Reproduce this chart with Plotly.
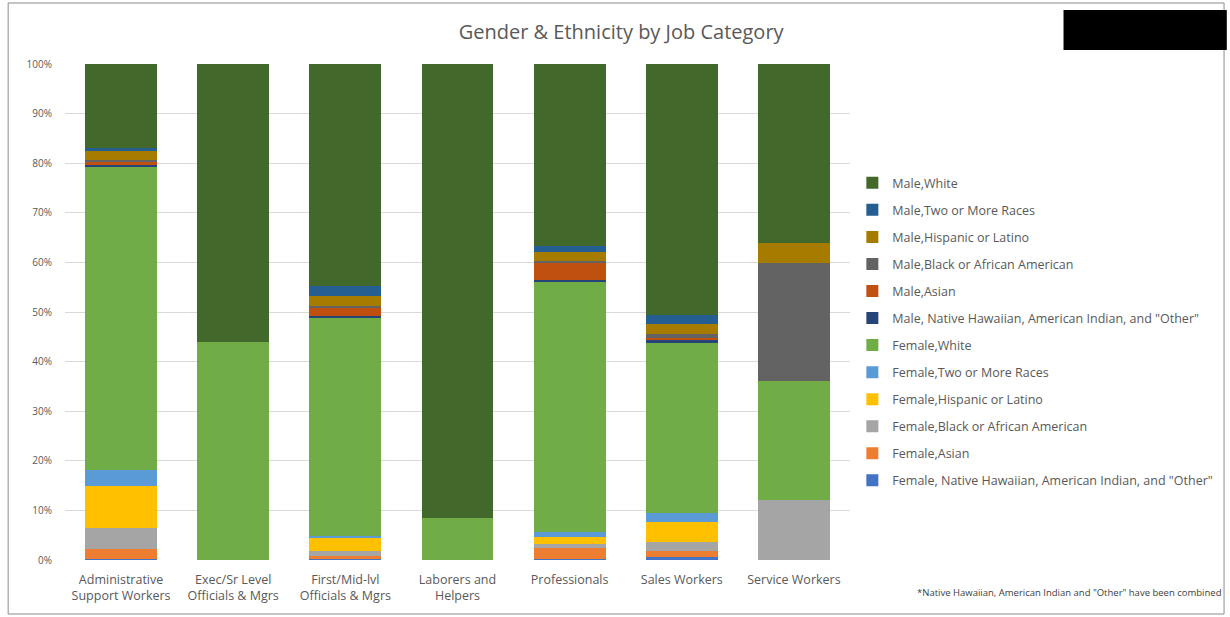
import plotly.graph_objects as go

categories = ["Administrative<br>Support Workers", "Exec/Sr Level<br>Officials & Mgrs",
              "First/Mid-lvl<br>Officials & Mgrs", "Laborers and<br>Helpers",
              "Professionals", "Sales Workers", "Service Workers"]

f_nh = [0.2, 0, 0.2, 0, 0.2, 0.6, 0]
f_asian = [2.0, 0, 0.6, 0, 2.2, 1.3, 0]
f_black = [4.2, 0, 1.0, 0, 0.8, 1.8, 12.1]
f_hisp = [8.6, 0, 2.7, 0, 1.4, 3.9, 0]
f_two = [3.1, 0, 0.3, 0, 1.1, 1.8, 0]
f_white = [61.3, 44.0, 44.0, 8.4, 50.5, 34.3, 24.0]
m_nh = [0.2, 0, 0.3, 0, 0.2, 0.6, 0]
m_asian = [0.8, 0, 1.8, 0, 3.6, 0.5, 0]
m_black = [0.2, 0, 0.3, 0, 0.3, 0.8, 23.7]
m_hisp = [1.8, 0, 2.1, 0, 1.8, 1.9, 4.1]
m_two = [0.6, 0, 2.0, 0, 1.2, 1.8, 0]
m_white = [17.0, 56.0, 44.7, 91.6, 36.7, 50.7, 36.1]

y_ticks = list(range(0, 101, 10))
y_tick_labels = [f"{v}%" for v in y_ticks]

series = [
    ('Female, Native Hawaiian, American Indian, and "Other"', f_nh, "#4472C4"),
    ("Female,Asian", f_asian, "#ED7D31"),
    ("Female,Black or African American", f_black, "#A5A5A5"),
    ("Female,Hispanic or Latino", f_hisp, "#FFC000"),
    ("Female,Two or More Races", f_two, "#5B9BD5"),
    ("Female,White", f_white, "#70AD47"),
    ('Male, Native Hawaiian, American Indian, and "Other"', m_nh, "#264478"),
    ("Male,Asian", m_asian, "#C0500F"),
    ("Male,Black or African American", m_black, "#636363"),
    ("Male,Hispanic or Latino", m_hisp, "#A67C00"),
    ("Male,Two or More Races", m_two, "#255E91"),
    ("Male,White", m_white, "#43682B"),
]

fig = go.Figure()
n = len(series)
for i, (name, vals, col) in enumerate(series):
    fig.add_trace(go.Bar(x=categories, y=vals, name=name, marker_color=col,
                         marker_line_width=0, legendgroup=str(i),
                         legendrank=100 + (n - i)))

fig.update_layout(
    barmode="stack", bargap=0.36,
    width=1230, height=617,
    margin=dict(l=65, r=378, t=64, b=57),
    paper_bgcolor="white", plot_bgcolor="white",
    font=dict(family="Open Sans, Liberation Sans, sans-serif", color="#595959", size=10),
    title=dict(text="Gender & Ethnicity by Job Category", x=0.505, y=0.948,
               xanchor="center", yanchor="middle",
               font=dict(size=20, color="#595959")),
    legend=dict(traceorder="grouped", x=1.003, y=0.790, xanchor="left", yanchor="top",
                font=dict(size=12.5, color="#595959"), tracegroupgap=7.8,
                bgcolor="rgba(0,0,0,0)"),
    showlegend=True,
)
fig.update_yaxes(range=[0, 100], tickvals=y_ticks, ticktext=y_tick_labels,
                 gridcolor="#D9D9D9", gridwidth=1, zeroline=False, showline=False,
                 ticklabelstandoff=12,
                 tickfont=dict(size=10, color="#595959"))
fig.update_xaxes(showline=False, ticklabelstandoff=10,
                 tickfont=dict(size=12.5, color="#595959"))

fig.add_shape(type="rect", xref="paper", yref="paper", x0=-0.0724, x1=1.4765,
              y0=-0.1089, y1=1.123, line=dict(color="#8C8C8C", width=1), layer="below")
fig.add_shape(type="rect", xref="paper", yref="paper", x0=1.272, x1=1.48,
              y0=1.028, y1=1.109, fillcolor="black", line=dict(width=0))
fig.add_annotation(text='*Native Hawaiian, American Indian and "Other" have been combined',
                   xref="paper", yref="paper", x=1.475, y=-0.0665, xanchor="right",
                   yanchor="middle", showarrow=False, font=dict(size=9.5, color="#404040"))

fig.write_html("out.html", config={"displayModeBar": False},
               post_script="document.body.style.margin='0px';")
